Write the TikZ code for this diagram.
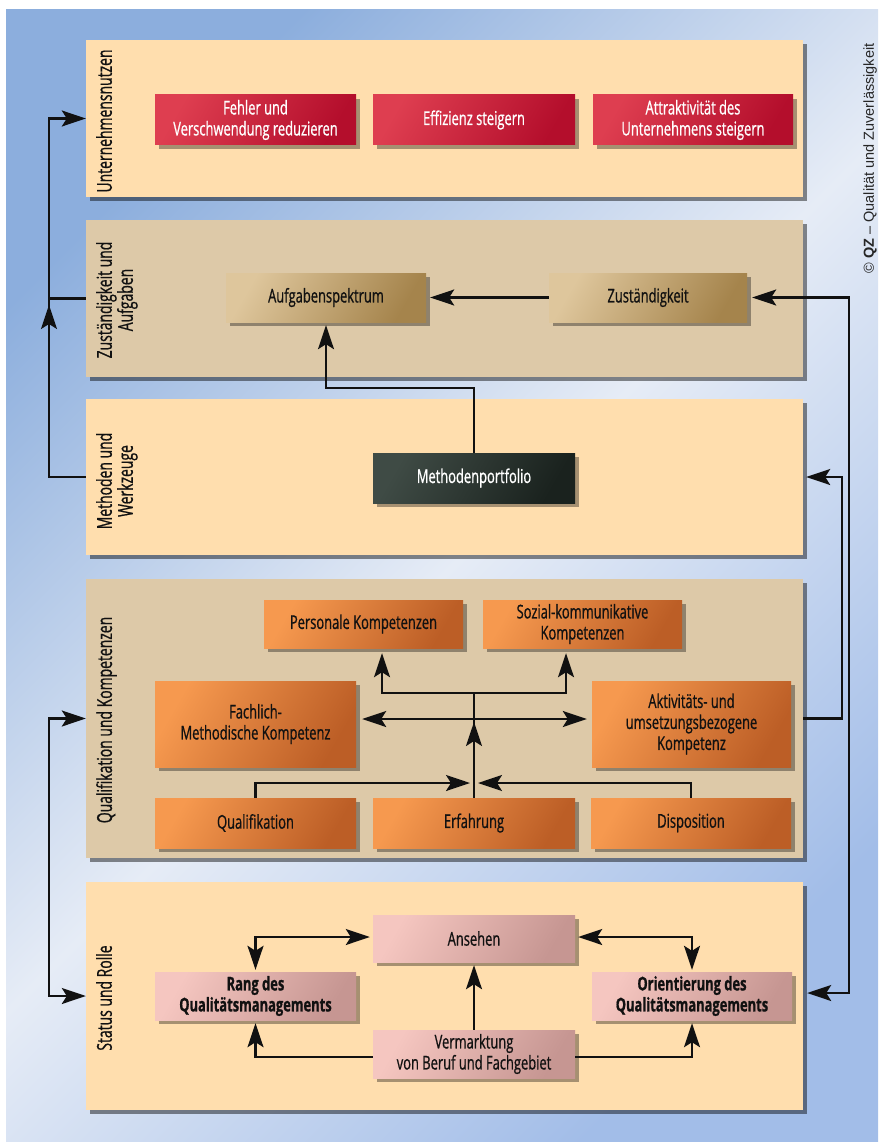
\documentclass[tikz,border=0pt]{standalone}
\usepackage{fontspec}
\setmainfont{Open Sans}[FakeStretch=0.68, FakeBold=0.8]
\newfontfamily\qzfont{Liberation Sans}
\usetikzlibrary{arrows.meta,shadows,calc}
\definecolor{bgblue}{HTML}{8CAEDD}
\definecolor{bglight}{HTML}{E6ECF6}
\definecolor{bgblueb}{HTML}{A2BDE8}
\definecolor{peachc}{HTML}{FFDEAE}
\definecolor{tanc}{HTML}{DDC9A8}
\definecolor{redL}{HTML}{DE3E50}
\definecolor{redD}{HTML}{B40E2C}
\definecolor{brL}{HTML}{DEC69C}
\definecolor{brD}{HTML}{A5844C}
\definecolor{orL}{HTML}{F6994F}
\definecolor{orD}{HTML}{BC5E26}
\definecolor{piL}{HTML}{F5C6C0}
\definecolor{piD}{HTML}{C69692}
\definecolor{dkL}{HTML}{3F4B45}
\definecolor{dkD}{HTML}{1A221E}
\definecolor{linec}{HTML}{111111}
\definecolor{txtc}{HTML}{111111}
\newcommand\qboxfont{\fontsize{19}{21}\selectfont}
\newcommand\qsidefont{\fontsize{20.5}{21}\selectfont}
\begin{document}
\begin{tikzpicture}[x=1pt,y=-1pt,
  qpanel/.style={rectangle, inner sep=0pt, draw=none,
    drop shadow={shadow xshift=4pt,shadow yshift=-4pt,opacity=0.45,fill=black}},
  qbox/.style={rectangle, inner sep=0pt, align=center, font=\qboxfont, text=txtc,
    drop shadow={shadow xshift=4pt,shadow yshift=-4pt,opacity=0.35,fill=black}},
  qred/.style={qbox, top color=redL, bottom color=redD, shading angle=60, text=white},
  qbrown/.style={qbox, top color=brL, bottom color=brD, shading angle=60},
  qorange/.style={qbox, top color=orL, bottom color=orD, shading angle=60},
  qpink/.style={qbox, top color=piL, bottom color=piD, shading angle=60},
  qdark/.style={qbox, top color=dkL, bottom color=dkD, shading angle=60, text=white},
  qside/.style={rotate=90, anchor=north, inner sep=0pt, align=center, font=\qsidefont, text=txtc},
  qline/.style={draw=linec, line width=2.2pt},
  qarr/.style={qline, -{Stealth[length=24pt,width=16pt,inset=5pt]}},
  qarrb/.style={qline, {Stealth[length=24pt,width=16pt,inset=5pt]}-{Stealth[length=24pt,width=16pt,inset=5pt]}}
]
\useasboundingbox (0,0) rectangle (878,1142);
\fill[white] (0,0) rectangle (878,1142);
\path[top color=bgblue, bottom color=bgblueb, middle color=bglight, shading angle=45] (6,10) rectangle (878,1142);

% panels
\node[qpanel, fill=peachc, minimum width=717pt, minimum height=157pt] (p1) at (444.5,118.5) {};
\node[qpanel, fill=tanc, minimum width=717pt, minimum height=157pt] (p2) at (444.5,298.5) {};
\node[qpanel, fill=peachc, minimum width=717pt, minimum height=156pt] (p3) at (444.5,477) {};
\node[qpanel, fill=tanc, minimum width=717pt, minimum height=279pt] (p4) at (444.5,718.5) {};
\node[qpanel, fill=peachc, minimum width=717pt, minimum height=228pt] (p5) at (444.5,996) {};

% side labels
\node[qside] (l1) at (96,121) {Unternehmensnutzen};
\node[qside] (l2) at (96,300) {Zuständigkeit und\\Aufgaben};
\node[qside] (l3) at (96,481) {Methoden und\\Werkzeuge};
\node[qside] (l4) at (96,720) {Qualifikation und Kompetenzen};
\node[qside] (l5) at (96,998) {Status und Rolle};

% boxes
\node[qred, minimum width=201pt, minimum height=50pt] (r1) at (255.5,120) {Fehler und\\Verschwendung reduzieren};
\node[qred, minimum width=202pt, minimum height=50pt] (r2) at (474,120) {Effizienz steigern};
\node[qred, minimum width=200pt, minimum height=50pt] (r3) at (693,120) {Attraktivität des\\Unternehmens steigern};

\node[qbrown, minimum width=200pt, minimum height=49pt] (aufg) at (326,297.5) {Aufgabenspektrum};
\node[qbrown, minimum width=198pt, minimum height=49pt] (zust) at (648,297.5) {Zuständigkeit};

\node[qdark, minimum width=202pt, minimum height=50pt] (meth) at (474,478) {Methodenportfolio};

\node[qorange, minimum width=199pt, minimum height=48pt] (pers) at (363.5,624) {Personale Kompetenzen};
\node[qorange, minimum width=199pt, minimum height=48pt] (soz) at (582.5,624) {Sozial-kommunikative\\Kompetenzen};
\node[qorange, minimum width=201pt, minimum height=86pt] (fach) at (255.5,724) {Fachlich-\\Methodische Kompetenz};
\node[qorange, minimum width=199pt, minimum height=86pt] (akt) at (691.5,724) {Aktivitäts- und\\umsetzungsbezogene\\Kompetenz};
\node[qorange, minimum width=201pt, minimum height=50pt] (qual) at (255.5,823) {Qualifikation};
\node[qorange, minimum width=202pt, minimum height=50pt] (erf) at (474,823) {Erfahrung};
\node[qorange, minimum width=200pt, minimum height=50pt] (disp) at (691,823) {Disposition};

\node[qpink, minimum width=202pt, minimum height=47pt] (ans) at (474,938.5) {Ansehen};
\node[qpink, minimum width=201pt, minimum height=48pt, font=\qboxfont\bfseries] (rang) at (255.5,996) {Rang des\\Qualitätsmanagements};
\node[qpink, minimum width=200pt, minimum height=48pt, font=\qboxfont\bfseries] (orient) at (692,996) {Orientierung des\\Qualitätsmanagements};
\node[qpink, minimum width=202pt, minimum height=48pt] (verm) at (474,1054) {Vermarktung\\von Beruf und Fachgebiet};

% copyright
\node[rotate=90, anchor=south, inner sep=0pt, font=\qzfont\fontsize{14.5}{17}\selectfont, text=black!85] (qz) at (877,158.5) {© \textbf{QZ} – Qualität und Zuverlässigkeit};

% left connectors
\coordinate (la) at (49,118.5);
\coordinate (ma1) at (49,350);
\coordinate (ma2) at (49,305);
\coordinate (ld) at (49,718.5);
\draw[qarr] (p3.west) -| (la) -- (p1.west);
\draw[qline] (p2.west) -- (p2.west -| la);
\draw[qarr] (ma1) -- (ma2);
\draw[qarrb] (p4.west) -- (p4.west -| ld) |- (p5.west);

% right connectors
\coordinate (rx1) at (842,0);
\coordinate (rx2) at (849,0);
\draw[qarr, shorten >=3pt] (p4.east) -| (rx1 |- p3.east) -- (p3.east);
\draw[qarrb, shorten <=5pt, shorten >=4pt] (zust.east) -- (zust.east -| rx2) |- ([yshift=3pt]p5.east);

% panel 2
\coordinate (mm) at (474,388);
\draw[qarr, shorten >=4pt] (zust.west) -- (aufg.east);
\draw[qarr, shorten >=3pt] (meth.north) -- (meth.north |- mm) -| (aufg.south);

% panel 4
\coordinate (j1) at (474,693);
\coordinate (j2) at (474,719);
\coordinate (j3) at (474,783);
\coordinate (j4) at (474,722);
\draw[qarr, shorten >=5pt] (j1) -| ([xshift=18.5pt]pers.south);
\draw[qarr, shorten >=5pt] (j1) -| ([xshift=-16.5pt]soz.south);
\draw[qarrb, shorten <=6pt, shorten >=5pt] (fach.east |- j2) -- (akt.west |- j2);
\draw[qline] (erf.north) -- (j1);
\draw[qarr] (erf.north) -- (j4);
\draw[qarr] (qual.north) |- ([xshift=-4pt]j3);
\draw[qarr] (disp.north) |- ([xshift=4pt]j3);

% panel 5
\draw[qarrb, shorten <=2pt, shorten >=3pt] (rang.north) |- ([yshift=1.5pt]ans.west);
\draw[qarrb, shorten <=2pt, shorten >=3pt] (orient.north) |- ([yshift=1.5pt]ans.east);
\draw[qarr, shorten >=3pt] (verm.north) -- (ans.south);
\draw[qarr, shorten >=3pt] ([yshift=-3pt]verm.west) -| (rang.south);
\draw[qarr, shorten >=3pt] ([yshift=-3pt]verm.east) -| (orient.south);
\end{tikzpicture}
\end{document}
